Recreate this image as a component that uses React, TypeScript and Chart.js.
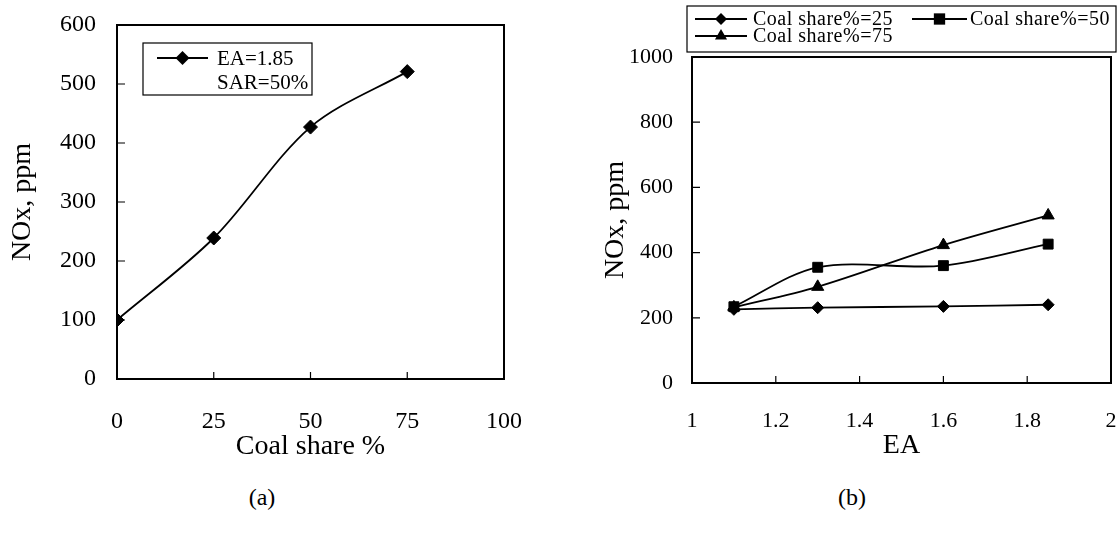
import React, { useEffect, useRef } from "react";
import { Chart, registerables } from "chart.js";

Chart.register(...registerables);

const FONT = '"Liberation Serif", "Times New Roman", Times, serif';

// ---- Chart (a): NOx vs coal share ----
const coalShare = [0, 25, 50, 75];
const noxA = [100, 239, 427, 521];
const legendA = ["EA=1.85", "SAR=50%"];
const xTitleA = "Coal share %";
const yTitle = "NOx, ppm";

// ---- Chart (b): NOx vs EA ----
const eaValues = [1.1, 1.3, 1.6, 1.85];
const nox25 = [226, 231, 235, 240];
const nox50 = [234, 355, 360, 426];
const nox75 = [232, 295, 423, 514];
const seriesLabelsB = ["Coal share%=25", "Coal share%=50", "Coal share%=75"];
const xTitleB = "EA";

const captions = ["(a)", "(b)"];

type Shape = "diamond" | "square" | "triangle";

function drawShape(ctx: CanvasRenderingContext2D, shape: Shape, x: number, y: number, r: number) {
  ctx.beginPath();
  if (shape === "diamond") {
    ctx.moveTo(x, y - r);
    ctx.lineTo(x + r, y);
    ctx.lineTo(x, y + r);
    ctx.lineTo(x - r, y);
  } else if (shape === "square") {
    const s = r * Math.SQRT1_2;
    ctx.rect(x - s, y - s, 2 * s, 2 * s);
  } else {
    ctx.moveTo(x, y - r);
    ctx.lineTo(x + r * 0.866, y + r * 0.5);
    ctx.lineTo(x - r * 0.866, y + r * 0.5);
  }
  ctx.closePath();
  ctx.fillStyle = "#000";
  ctx.fill();
}

function zeroPad(s: any) {
  s.paddingLeft = 0;
  s.paddingRight = 0;
  s.paddingTop = 0;
  s.paddingBottom = 0;
}

const framePlugin = {
  id: "frame",
  beforeDatasetsDraw(chart: any) {
    const { ctx, chartArea: a, scales } = chart;
    ctx.save();
    ctx.strokeStyle = "#000";
    ctx.lineWidth = 2;
    ctx.strokeRect(a.left, a.top, a.right - a.left, a.bottom - a.top);
    ctx.lineWidth = 1.2;
    ctx.beginPath();
    scales.x.ticks.forEach((t: any) => {
      const px = scales.x.getPixelForValue(t.value);
      if (px > a.left + 2 && px < a.right - 2) {
        ctx.moveTo(px, a.bottom);
        ctx.lineTo(px, a.bottom - 7);
      }
    });
    scales.y.ticks.forEach((t: any) => {
      const py = scales.y.getPixelForValue(t.value);
      if (py > a.top + 2 && py < a.bottom - 2) {
        ctx.moveTo(a.left, py);
        ctx.lineTo(a.left + 8, py);
      }
    });
    ctx.stroke();
    ctx.restore();
  },
};

type LegendItem = { x1: number; x2: number; y: number; shape?: Shape; r?: number; text: string; tx: number };

function makeLegendPlugin(box: [number, number, number, number], items: LegendItem[], fontSize: number, spacing: number) {
  return {
    id: "customLegend",
    afterDraw(chart: any) {
      const ctx: any = chart.ctx;
      ctx.save();
      ctx.fillStyle = "#fff";
      ctx.fillRect(box[0], box[1], box[2] - box[0], box[3] - box[1]);
      ctx.strokeStyle = "#000";
      ctx.lineWidth = 1.2;
      ctx.strokeRect(box[0], box[1], box[2] - box[0], box[3] - box[1]);
      ctx.font = `${fontSize}px ${FONT}`;
      if ("letterSpacing" in ctx) ctx.letterSpacing = `${spacing}px`;
      ctx.textBaseline = "middle";
      ctx.textAlign = "left";
      items.forEach((it) => {
        if (it.shape) {
          ctx.beginPath();
          ctx.lineWidth = 1.8;
          ctx.moveTo(it.x1, it.y);
          ctx.lineTo(it.x2, it.y);
          ctx.stroke();
          drawShape(ctx, it.shape, (it.x1 + it.x2) / 2, it.y, it.r || 6);
        }
        ctx.fillStyle = "#000";
        ctx.fillText(it.text, it.tx, it.y + 1);
      });
      ctx.restore();
    },
  };
}

const baseDataset = {
  borderColor: "#000",
  backgroundColor: "#000",
  pointBorderColor: "#000",
  pointBackgroundColor: "#000",
  borderWidth: 1.8,
  pointBorderWidth: 1,
  tension: 0.32,
  fill: false,
};

function ChartA() {
  const ref = useRef<HTMLCanvasElement>(null);
  useEffect(() => {
    if (!ref.current) return;
    Chart.defaults.color = "#000";
    const chart = new Chart(ref.current, {
      type: "line",
      data: {
        datasets: [
          {
            ...baseDataset,
            label: legendA[0],
            data: coalShare.map((x, i) => ({ x, y: noxA[i] })),
            pointStyle: "rectRot",
            pointRadius: 7,
          } as any,
        ],
      },
      options: {
        animation: false,
        responsive: false,
        devicePixelRatio: 1,
        layout: { padding: { top: 25, right: 56, bottom: 0, left: 0 } },
        plugins: { legend: { display: false }, tooltip: { enabled: false } },
        scales: {
          x: {
            type: "linear",
            min: 0,
            max: 100,
            grid: { display: false, drawTicks: false },
            border: { display: false },
            ticks: { stepSize: 25, padding: 28, color: "#000", font: { family: FONT, size: 24 }, maxRotation: 0, callback: (v: any) => String(v) },
            title: { display: true, text: xTitleA, color: "#000", font: { family: FONT, size: 28 }, padding: { top: 0, bottom: 7 } },
            afterFit: (s: any) => { s.height = 91; zeroPad(s); },
          },
          y: {
            type: "linear",
            min: 0,
            max: 600,
            grid: { display: false, drawTicks: false },
            border: { display: false },
            ticks: { stepSize: 100, padding: 21, color: "#000", font: { family: FONT, size: 24 }, callback: (v: any) => String(v) },
            title: { display: true, text: yTitle, color: "#000", font: { family: FONT, size: 28 }, padding: { top: 6, bottom: 0 } },
            afterFit: (s: any) => { s.width = 117; zeroPad(s); },
          },
        },
      } as any,
      plugins: [
        framePlugin,
        makeLegendPlugin([143, 43, 312, 95], [
          { x1: 157, x2: 208, y: 58, shape: "diamond", r: 7, text: legendA[0], tx: 217 },
          { x1: 0, x2: 0, y: 82, text: legendA[1], tx: 217 },
        ], 21, 0),
      ],
    });
    return () => chart.destroy();
  }, []);
  return <canvas ref={ref} width={560} height={470} style={{ display: "block" }} />;
}

function ChartB() {
  const ref = useRef<HTMLCanvasElement>(null);
  useEffect(() => {
    if (!ref.current) return;
    const chart = new Chart(ref.current, {
      type: "line",
      data: {
        datasets: [
          {
            ...baseDataset,
            label: seriesLabelsB[0],
            data: eaValues.map((x, i) => ({ x, y: nox25[i] })),
            pointStyle: "rectRot",
            pointRadius: 6,
            order: 2,
          },
          {
            ...baseDataset,
            label: seriesLabelsB[1],
            data: eaValues.map((x, i) => ({ x, y: nox50[i] })),
            pointStyle: "rect",
            pointRadius: 7,
            order: 0,
          },
          {
            ...baseDataset,
            label: seriesLabelsB[2],
            data: eaValues.map((x, i) => ({ x, y: nox75[i] })),
            pointStyle: "triangle",
            pointRadius: 7,
            order: 1,
          },
        ] as any,
      },
      options: {
        animation: false,
        responsive: false,
        devicePixelRatio: 1,
        layout: { padding: { top: 57, right: 9, bottom: 0, left: 0 } },
        plugins: { legend: { display: false }, tooltip: { enabled: false } },
        scales: {
          x: {
            type: "linear",
            min: 1,
            max: 2,
            grid: { display: false, drawTicks: false },
            border: { display: false },
            ticks: { stepSize: 0.2, padding: 25, color: "#000", font: { family: FONT, size: 22 }, maxRotation: 0, callback: (v: any) => String(Math.round(v * 10) / 10) },
            title: { display: true, text: xTitleB, color: "#000", font: { family: FONT, size: 28 }, padding: { top: 0, bottom: 8 } },
            afterFit: (s: any) => { s.height = 87; zeroPad(s); },
          },
          y: {
            type: "linear",
            min: 0,
            max: 1000,
            grid: { display: false, drawTicks: false },
            border: { display: false },
            ticks: { stepSize: 200, padding: 19, color: "#000", font: { family: FONT, size: 22 }, callback: (v: any) => String(v) },
            title: { display: true, text: yTitle, color: "#000", font: { family: FONT, size: 28 }, padding: { top: 39, bottom: 0 } },
            afterFit: (s: any) => { s.width = 132; zeroPad(s); },
          },
        },
      } as any,
      plugins: [
        framePlugin,
        makeLegendPlugin([127, 6, 556, 52], [
          { x1: 135, x2: 187, y: 19, shape: "diamond", r: 6, text: seriesLabelsB[0], tx: 193 },
          { x1: 352, x2: 407, y: 19, shape: "square", r: 8, text: seriesLabelsB[1], tx: 410 },
          { x1: 135, x2: 187, y: 36, shape: "triangle", r: 7, text: seriesLabelsB[2], tx: 193 },
        ], 20, 0.5),
      ],
    });
    return () => chart.destroy();
  }, []);
  return <canvas ref={ref} width={560} height={470} style={{ display: "block" }} />;
}

export default function App() {
  const capStyle: React.CSSProperties = {
    position: "absolute",
    top: 483,
    width: 100,
    textAlign: "center",
    fontFamily: FONT,
    fontSize: 24,
    lineHeight: "28px",
    color: "#000",
  };
  return (
    <div style={{ position: "absolute", left: 0, top: 0, width: 1120, height: 540, background: "#fff", overflow: "hidden" }}>
      <div style={{ position: "absolute", left: 0, top: 0, width: 560, height: 470 }}>
        <ChartA />
      </div>
      <div style={{ position: "absolute", left: 560, top: 0, width: 560, height: 470 }}>
        <ChartB />
      </div>
      <div style={{ ...capStyle, left: 212 }}>{captions[0]}</div>
      <div style={{ ...capStyle, left: 802 }}>{captions[1]}</div>
    </div>
  );
}
